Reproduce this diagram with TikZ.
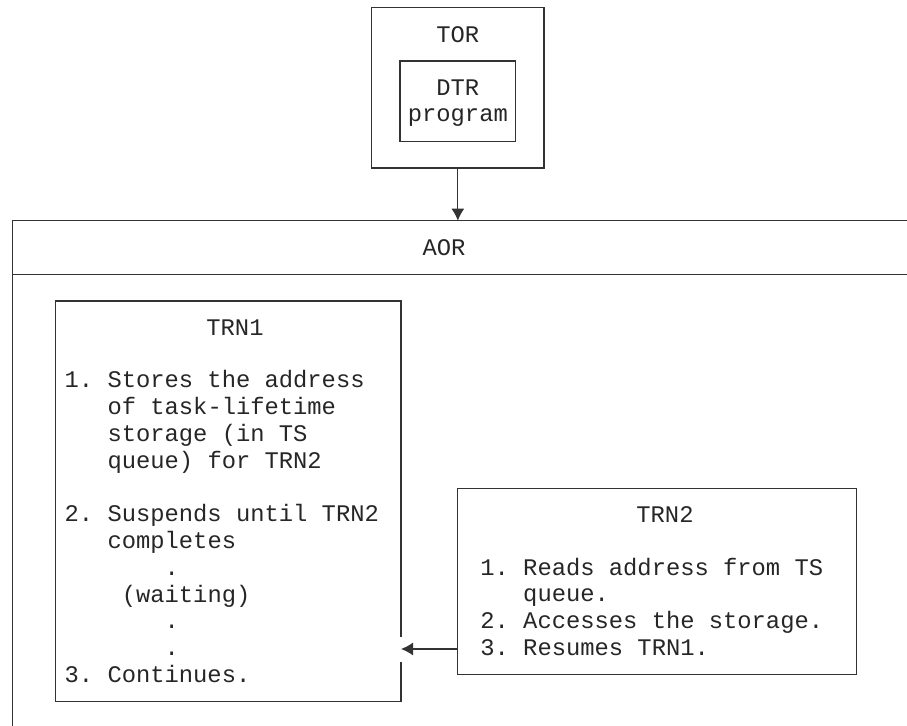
\documentclass[tikz,border=0pt]{standalone}
\usepackage{fontspec}
\usepackage{tikz}
\usetikzlibrary{arrows.meta}
\newfontfamily\ibmfont{Liberation Mono}
\tikzset{box/.style={draw=black!80, line width=0.6pt, inner sep=0pt}}
\tikzset{txt/.style={inner sep=0pt, text=black!85, font=\ibmfont\fontsize{11.9pt}{13.4pt}\selectfont\frenchspacing}}
\tikzset{arrow/.style={->, >={Latex[length=6pt,width=6.5pt]}, draw=black!80, line width=0.6pt}}
\newcommand{\indt}{\hphantom{0. }}

\begin{document}
\begin{tikzpicture}[x=0.5pt, y=-0.5pt]
  \useasboundingbox (0,0) rectangle (907,726);

  \node[box, minimum width=86.15pt, minimum height=80.35pt] (tor) at (457.85, 87.65) {};
  \node[box, minimum width=57.85pt, minimum height=40.35pt] (dtr) at (457.85, 101.35) {};
  \node[txt, anchor=base] (tortext) at (457.85, 42.7) {TOR};
  \node[txt, anchor=base, align=center] (dtrtext) at (457.85, 122) {DTR\\program};

  % AOR region, cut off at the right and at the bottom
  \coordinate (aortop) at (457.85, 220.7);
  \draw[box] (12.3, 726) |- (907, 220.7);
  \draw[box] (12.3, 274.3) -- (907, 274.3);
  \node[txt, anchor=base] (aor) at (444, 256) {AOR};
  \draw[arrow] (tor.south) -- (aortop);

  % base of a multi-line text is its last line
  \node[box, minimum width=172.65pt, minimum height=200.35pt] (trn1) at (228.35, 501.35) {};
  \node[txt, anchor=base] (trn1title) at (235, 335.3) {TRN1};
  \node[txt, anchor=base west, align=left] (trn1text) at (64.3, 682.5)
    {1. Stores the address\\\indt of task-lifetime\\\indt storage (in TS\\\indt queue) for TRN2\\[13.4pt]
     2. Suspends until TRN2\\\indt completes\\\hphantom{0000000}.\\\hphantom{0000}(waiting)\\
     \hphantom{0000000}.\\\hphantom{0000000}.\\3. Continues.};

  \node[box, minimum width=199.7pt, minimum height=93pt] (trn2) at (657, 581.3) {};
  \node[txt, anchor=base] (trn2title) at (665, 522.3) {TRN2};
  \node[txt, anchor=base west, align=left] (trn2text) at (480, 655.5)
    {1. Reads address from TS\\\indt queue.\\2. Accesses the storage.\\3. Resumes TRN1.};

  % gap in the TRN1 border where the arrow comes in
  \draw[white, line width=2pt] (401, 637) -- (401, 662);
  \coordinate (resume) at (401, 649);
  \draw[arrow] (trn2.west |- resume) -- (resume);
\end{tikzpicture}
\end{document}
